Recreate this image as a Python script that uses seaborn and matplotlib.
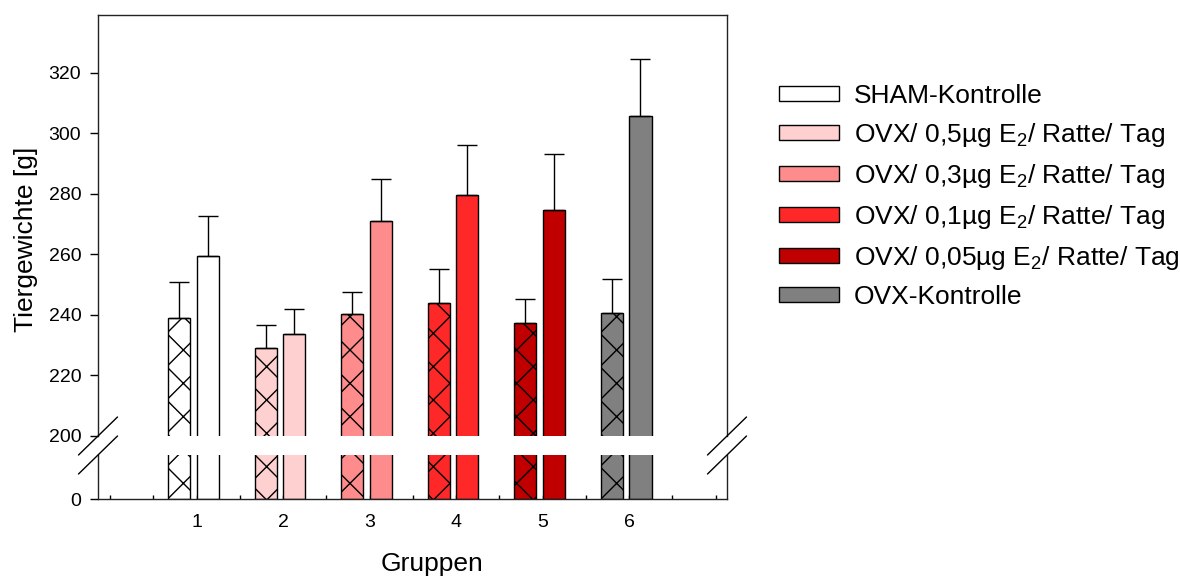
import numpy as np
import pandas as pd
import matplotlib
matplotlib.use("Agg")
import matplotlib.pyplot as plt
from matplotlib.patches import Patch
from matplotlib.lines import Line2D
import seaborn as sns

# ---------------- data ----------------
groups = np.array([1, 2, 3, 4, 5, 6])
group_labels = ["1", "2", "3", "4", "5", "6"]
legend_labels = [
    "SHAM-Kontrolle",
    "OVX/ 0,5µg E$_2$/ Ratte/ Tag",
    "OVX/ 0,3µg E$_2$/ Ratte/ Tag",
    "OVX/ 0,1µg E$_2$/ Ratte/ Tag",
    "OVX/ 0,05µg E$_2$/ Ratte/ Tag",
    "OVX-Kontrolle",
]
hatched_mean = [238.8, 229.1, 240.2, 243.8, 237.2, 240.7]
hatched_sd = [11.9, 7.5, 7.2, 11.3, 8.0, 11.0]
solid_mean = [259.4, 233.6, 271.0, 279.5, 274.5, 305.7]
solid_sd = [13.1, 8.2, 13.8, 16.5, 18.7, 18.8]
y_ticks_top = [200, 220, 240, 260, 280, 300, 320]
y_ticks_bottom = [0]

colors = ["#FFFFFF", "#FFD0D0", "#FF8C8C", "#FF2828", "#C00000", "#808080"]

# ---------------- style ----------------
sns.set_style("white")
plt.rcParams["font.family"] = ["Liberation Sans", "DejaVu Sans"]
plt.rcParams["mathtext.fontset"] = "custom"
plt.rcParams["mathtext.rm"] = "Liberation Sans"
plt.rcParams["mathtext.default"] = "regular"
plt.rcParams["hatch.color"] = "black"
plt.rcParams["hatch.linewidth"] = 1.0
plt.rcParams["text.color"] = "black"
plt.rcParams["axes.labelcolor"] = "black"
plt.rcParams["xtick.color"] = "black"
plt.rcParams["ytick.color"] = "black"

W, H = 1180, 576
fig = plt.figure(figsize=(W / 100, H / 100), dpi=100)
L, R = 98, 727
ax_top = fig.add_axes([L / W, (H - 436) / H, (R - L) / W, (436 - 15) / H])
ax_bot = fig.add_axes([L / W, (H - 499) / H, (R - L) / W, (499 - 455) / H])

off_h, off_s, bw = -0.202, 0.13, 0.255

for ax in (ax_top, ax_bot):
    for offset, means, sds, hatch in [(off_h, hatched_mean, hatched_sd, "x"),
                                      (off_s, solid_mean, solid_sd, None)]:
        df = pd.DataFrame({"pos": groups + offset, "val": means, "grp": group_labels})
        n0 = len(ax.patches)
        sns.barplot(data=df, x="pos", y="val", hue="grp", palette=colors,
                    native_scale=True, width=bw, saturation=1, dodge=False,
                    edgecolor="black", linewidth=1, errorbar=None, legend=False, ax=ax)
        for p in ax.patches[n0:]:
            if hatch:
                p.set_hatch(hatch)
        if ax is ax_top:
            ax.errorbar(df["pos"], df["val"], yerr=[np.zeros(len(sds)), sds], fmt="none",
                        ecolor="black", elinewidth=1, capsize=7.5, capthick=1, zorder=1)

for ax in (ax_top, ax_bot):
    ax.set_xlim(-0.14, 7.13)
    ax.set_xlabel("")
    ax.set_ylabel("")
    for s in ax.spines.values():
        s.set_color("#222222")
        s.set_linewidth(1)

ax_top.set_ylim(200, 339)
ax_top.set_yticks(y_ticks_top)
ax_top.spines["bottom"].set_visible(False)
ax_top.set_xticks([])
ax_top.tick_params(axis="y", left=True, direction="out", length=6, width=1,
                   labelsize=14, pad=6)

ax_bot.set_ylim(0, 14.5)
ax_bot.set_yticks(y_ticks_bottom)
ax_bot.spines["top"].set_visible(False)
ax_bot.tick_params(axis="y", left=True, direction="out", length=6, width=1,
                   labelsize=14, pad=6)
ax_bot.set_xticks(groups)
ax_bot.set_xticklabels(group_labels)
ax_bot.set_xticks(np.arange(0, 7.01, 0.5), minor=True)
ax_bot.tick_params(axis="x", which="both", bottom=True, direction="in", length=3,
                   width=1, labelsize=14, pad=11)

ax_top.set_ylabel("Tiergewichte [g]", fontsize=19)
ax_top.yaxis.set_label_coords(38.5 / W, 1 - 239 / H, transform=fig.transFigure)
ax_bot.set_xlabel("Gruppen", fontsize=19)
ax_bot.xaxis.set_label_coords(431.7 / W, 1 - 552 / H, transform=fig.transFigure)

# axis break marks
for (xc, yc) in [(L, 436), (L, 455), (R, 436), (R, 455)]:
    x1, y1 = (xc - 19.5) / W, (H - (yc + 19)) / H
    x2, y2 = (xc + 19.5) / W, (H - (yc - 19)) / H
    fig.add_artist(Line2D([x1, x2], [y1, y2], transform=fig.transFigure,
                          color="black", linewidth=1))

handles = [Patch(facecolor=c, edgecolor="black", linewidth=1) for c in colors]
fig.legend(handles, legend_labels, loc="upper left",
           bbox_to_anchor=(779 / W, 1 - 84 / H), frameon=False, fontsize=19,
           handlelength=2.27, handleheight=0.49, handletextpad=0.57,
           labelspacing=0.49, borderpad=0, borderaxespad=0)

fig.savefig("out.png", dpi=100)
